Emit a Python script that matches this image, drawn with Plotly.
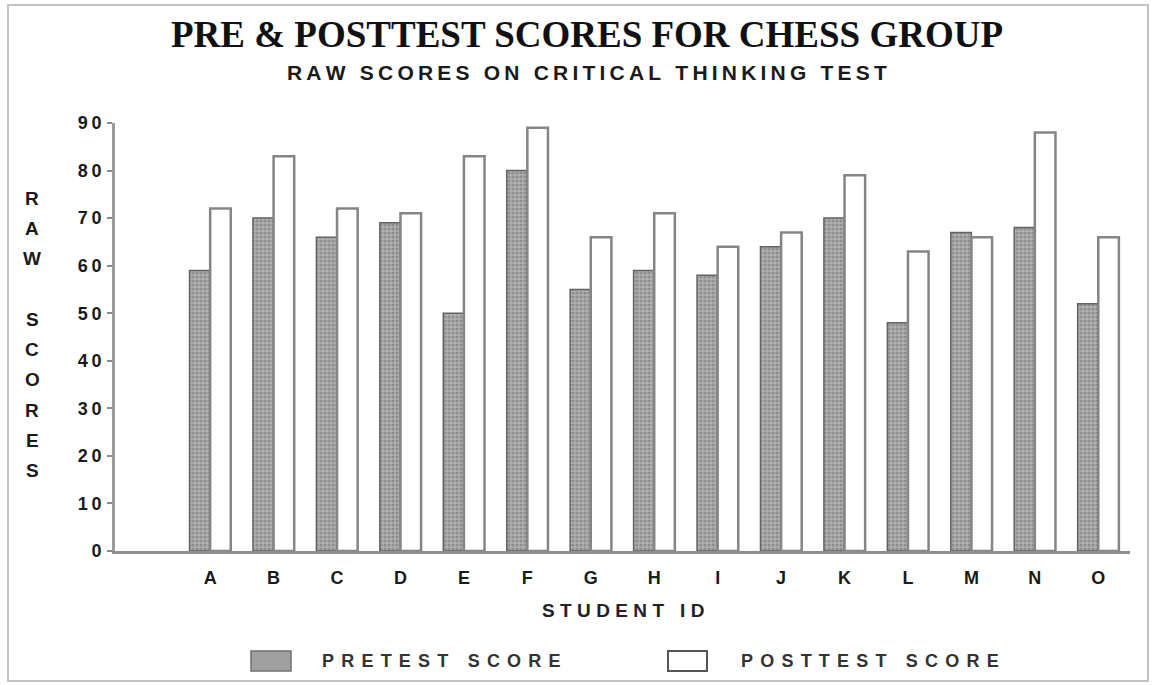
import plotly.graph_objects as go

# ---- data ----
students = ["A", "B", "C", "D", "E", "F", "G", "H", "I", "J", "K", "L", "M", "N", "O"]
pretest = [59, 70, 66, 69, 50, 80, 55, 59, 58, 64, 70, 48, 67, 68, 52]
posttest = [72, 83, 72, 71, 83, 89, 66, 71, 64, 67, 79, 63, 66, 88, 66]
y_ticks = [0, 10, 20, 30, 40, 50, 60, 70, 80, 90]
y_title_letters = ["R", "A", "W", "", "S", "C", "O", "R", "E", "S"]

title_text = "PRE & POSTTEST SCORES FOR CHESS GROUP"
subtitle_text = "RAW SCORES ON CRITICAL THINKING TEST"
x_title_text = "STUDENT ID"
legend_labels = ["PRETEST SCORE", "POSTTEST SCORE"]

# ---- layout geometry (pixels) ----
W, H = 1152, 685
ML, MR, MT, MB = 115, 22, 123, 134
PW, PH = W - ML - MR, H - MT - MB


def px(x):
    return (x - ML) / PW


def py(y):
    return (H - MB - y) / PH


def spaced(s, sep="\u2009"):
    return sep.join(list(s))


x_pos = [i + 1 for i in range(len(students))]

fig = go.Figure()
fig.add_trace(go.Bar(
    x=x_pos, y=pretest, name=legend_labels[0],
    marker=dict(
        color="#a0a0a0",
        line=dict(color="#626262", width=1.5),
        pattern=dict(shape=".", fgcolor="#6c6c6c", bgcolor="#b0b0b0", size=4, solidity=0.5),
    ),
    showlegend=False,
))
fig.add_trace(go.Bar(
    x=x_pos, y=posttest, name=legend_labels[1],
    marker=dict(color="white", line=dict(color="#858585", width=2.5)),
    showlegend=False,
))

tick_font = dict(family="Liberation Sans", size=18, color="#1a1a1a", weight="bold")

fig.update_layout(
    width=W, height=H,
    margin=dict(l=ML, r=MR, t=MT, b=MB),
    paper_bgcolor="white", plot_bgcolor="white",
    barmode="group", bargap=0.35, bargroupgap=0.0,
    xaxis=dict(
        range=[-0.5, 15.5], tickmode="array", tickvals=x_pos,
        ticktext=students, showgrid=False, zeroline=False,
        showline=True, linecolor="#8e8e8e", linewidth=3,
        ticks="", tickfont=dict(family="Liberation Sans", size=18, color="#1a1a1a", weight="bold"),
        ticklabelstandoff=8,
    ),
    yaxis=dict(
        range=[0, 90], tickmode="array", tickvals=y_ticks,
        ticktext=[spaced(str(v)) for v in y_ticks],
        showgrid=False, zeroline=False,
        showline=True, linecolor="#9a9a9a", linewidth=3,
        ticks="outside", ticklen=5, tickcolor="#8a8a8a", tickwidth=2,
        tickfont=tick_font, ticklabelstandoff=2,
    ),
)

ann = []
ann.append(dict(
    text="<b>" + title_text + "</b>", x=px(587), y=py(35), xref="paper", yref="paper",
    xanchor="center", yanchor="middle", showarrow=False,
    font=dict(family="Liberation Serif", size=37, color="#111111"),
))
ann.append(dict(
    text="<b>" + spaced(subtitle_text) + "</b>", x=px(587), y=py(73), xref="paper", yref="paper",
    xanchor="center", yanchor="middle", showarrow=False,
    font=dict(family="Liberation Sans", size=21, color="#1a1a1a"),
))
ann.append(dict(
    text="<b>" + spaced(x_title_text, "\u2009\u200a") + "</b>", x=px(623), y=py(610), xref="paper", yref="paper",
    xanchor="center", yanchor="middle", showarrow=False,
    font=dict(family="Liberation Sans", size=19, color="#222222"),
))
for i, letter in enumerate(y_title_letters):
    if letter:
        ann.append(dict(
            text="<b>" + letter + "</b>", x=px(32), y=py(198 + 30.3 * i), xref="paper", yref="paper",
            xanchor="center", yanchor="middle", showarrow=False,
            font=dict(family="Liberation Sans", size=19, color="#1a1a1a"),
        ))
# legend texts
ann.append(dict(
    text="<b>" + spaced(legend_labels[0], "\u2009\u2009") + "</b>", x=px(320), y=py(661), xref="paper", yref="paper",
    xanchor="left", yanchor="middle", showarrow=False,
    font=dict(family="Liberation Sans", size=18, color="#333333"),
))
ann.append(dict(
    text="<b>" + spaced(legend_labels[1], "\u2009\u2009") + "</b>", x=px(739), y=py(661), xref="paper", yref="paper",
    xanchor="left", yanchor="middle", showarrow=False,
    font=dict(family="Liberation Sans", size=18, color="#333333"),
))
fig.update_layout(annotations=ann)

shapes = [
    # legend swatches
    dict(type="rect", xref="paper", yref="paper", x0=px(251), x1=px(291), y0=py(671), y1=py(651),
         fillcolor="#a0a0a0", line=dict(color="#707070", width=1.5)),
    dict(type="rect", xref="paper", yref="paper", x0=px(668), x1=px(707), y0=py(671), y1=py(651),
         fillcolor="white", line=dict(color="#555555", width=2)),
    # outer frame
    dict(type="rect", xref="paper", yref="paper", x0=px(8), x1=px(1148), y0=py(681), y1=py(5),
         fillcolor="rgba(0,0,0,0)", line=dict(color="#c2c2c2", width=2)),
]
fig.update_layout(shapes=shapes)

fig.write_html(
    "out.html",
    config={"displayModeBar": False},
    post_script="document.body.style.margin='0px';document.body.style.overflow='hidden';",
)
